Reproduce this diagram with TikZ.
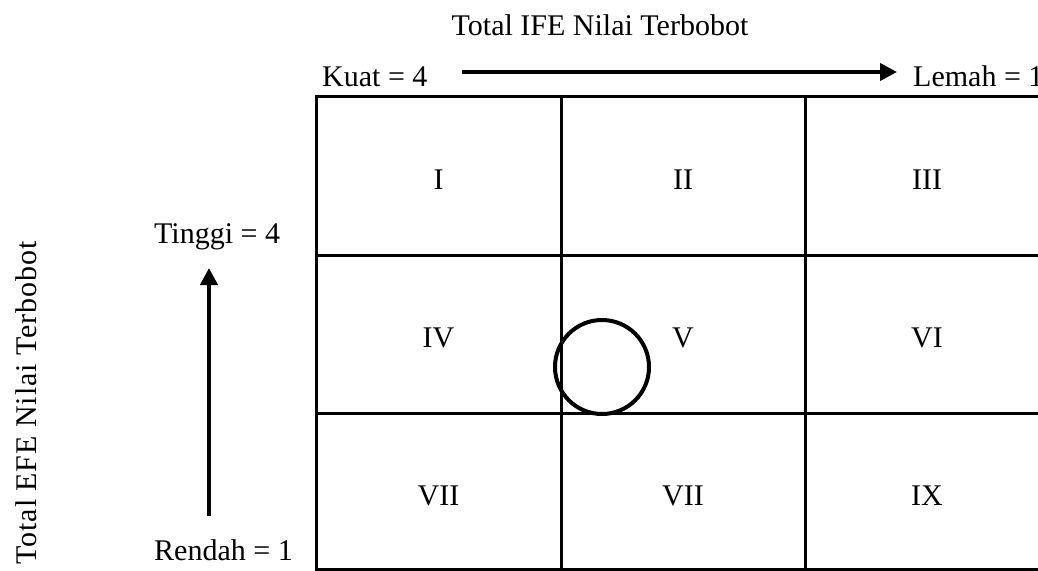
\documentclass[tikz,border=0pt]{standalone}
\usepackage{fontspec}
\setmainfont{Liberation Serif}
\newfontfamily\spacedserif[LetterSpace=3]{Liberation Serif}
\usetikzlibrary{arrows.meta}
\begin{document}
\begin{tikzpicture}[x=1pt,y=-1pt,
  lbl/.style={font=\fontsize{30}{36}\selectfont, inner sep=0pt},
  num/.style={lbl, anchor=base},
  gridline/.style={line width=3pt},
  axisarrow/.style={line width=4pt, -{Triangle[length=17pt,width=17pt]}},
  posmark/.style={draw, circle, line width=4pt, minimum size=94pt, inner sep=0pt},
]
\useasboundingbox (0,0) rectangle (1038,570);
\fill[white] (0,0) rectangle (1038,570);

% grid
\draw[gridline] (316,96) -- (1060,96);
\draw[gridline] (316,255) -- (1060,255);
\draw[gridline] (316,413) -- (1060,413);
\draw[gridline] (316,569) -- (1060,569);
\draw[gridline] (316,94.5) -- (316,570.5);
\draw[gridline] (561,96) -- (561,569);
\draw[gridline] (805,96) -- (805,569);

% cell labels
\node[num] (c11) at (438.5,189) {I};
\node[num] (c12) at (683,189) {II};
\node[num] (c13) at (927,189) {III};
\node[num] (c21) at (438.5,347) {IV};
\node[num] (c22) at (683,347) {V};
\node[num] (c23) at (927,347) {VI};
\node[num] (c31) at (438.5,505) {VII};
\node[num] (c32) at (683,505) {VII};
\node[num] (c33) at (927,505) {IX};

% position circle
\node[posmark] (pos) at (602,367) {};

% top axis
\node[lbl, anchor=base] (ifetitle) at (600,35) {Total IFE Nilai Terbobot};
\node[lbl, anchor=base west] (kuat) at (322,86) {Kuat = 4};
\node[lbl, anchor=base west] (lemah) at (913,86) {Lemah = 1};
\coordinate (ha1) at (462,72);
\coordinate (ha2) at (897,72);
\draw[axisarrow] (ha1) -- (ha2);

% left axis
\node[lbl, anchor=base west] (tinggi) at (154,243) {Tinggi = 4};
\node[lbl, anchor=base west] (rendah) at (154,560) {Rendah = 1};
\coordinate (va1) at (209,516);
\coordinate (va2) at (209,268);
\draw[axisarrow] (va1) -- (va2);
\node[lbl, font=\fontsize{30}{36}\spacedserif, rotate=90, anchor=base] (efetitle) at (36,403) {Total EFE Nilai Terbobot};
\end{tikzpicture}
\end{document}
